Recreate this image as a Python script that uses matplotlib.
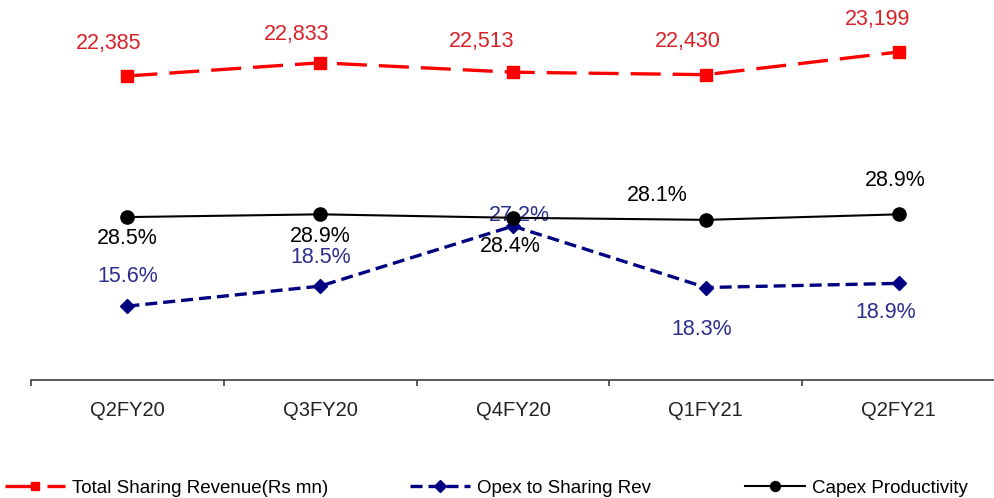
import matplotlib
matplotlib.use("Agg")
import matplotlib.pyplot as plt
from matplotlib import font_manager

# quarters and series
quarters = ["Q2FY20", "Q3FY20", "Q4FY20", "Q1FY21", "Q2FY21"]
revenue = [22385, 22833, 22513, 22430, 23199]      # Total Sharing Revenue (Rs mn)
opex_pct = [15.6, 18.5, 27.2, 18.3, 18.9]           # Opex to Sharing Rev (%)
capex_pct = [28.5, 28.9, 28.4, 28.1, 28.9]          # Capex Productivity (%)

# label offsets in pixels (dx, dy) for each point
rev_off = [(-19, 32), (-24, 28), (-31, 31), (-18, 33), (-21, 32)]
opex_off = [(0, 30), (0, 29), (6, 11), (-4, -42), (-13, -29)]
capex_off = [(0, -21), (0, -22), (-3, -29), (-49, 24), (-3, 34)]

names = {f.name for f in font_manager.fontManager.ttflist}
plt.rcParams["font.family"] = ["Liberation Sans", "DejaVu Sans"]
legend_font = "Liberation Sans Narrow" if "Liberation Sans Narrow" in names else "Liberation Sans"

RED = "#FF0000"
RED_TXT = "#DA2128"
NAVY = "#000080"
NAVY_TXT = "#2B2E8C"
AXIS = "#404040"

fig = plt.figure(figsize=(9.95, 4.98), dpi=100)
ax = fig.add_axes([31 / 995, 1 - 380 / 498, 1 - 31 / 995, 370 / 498])
ax2 = ax.twinx()

x = list(range(len(quarters)))

ax.plot(x, capex_pct, color="black", lw=1.5, marker="o", ms=9.5, zorder=4,
        label="Capex Productivity")
ax.plot(x, opex_pct, color=NAVY, lw=2.4, ls=(0, (3.6, 1.8)), marker="D", ms=7.5,
        zorder=3, label="Opex to Sharing Rev")
ax2.plot(x, revenue, color=RED, lw=2.4, ls=(0, (9, 3.6)), marker="s", ms=8.5,
         zorder=3, label="Total Sharing Revenue(Rs mn)")

ax.set_ylim(4.9, 58.5)
ax2.set_ylim(12079, 24622)
ax.set_xlim(-0.5, 4.40)

for i, v in enumerate(capex_pct):
    ax.annotate(f"{v:.1f}%", (i, v), xytext=capex_off[i], textcoords="offset pixels",
                ha="center", va="center", fontsize=15.5, color="black", zorder=5)
for i, v in enumerate(opex_pct):
    ax.annotate(f"{v:.1f}%", (i, v), xytext=opex_off[i], textcoords="offset pixels",
                ha="center", va="center", fontsize=15.5, color=NAVY_TXT, zorder=2)
for i, v in enumerate(revenue):
    ax2.annotate(f"{v:,}", (i, v), xytext=rev_off[i], textcoords="offset pixels",
                 ha="center", va="center", fontsize=15.5, color=RED_TXT)

# axis styling: only the bottom line with ticks between categories
for a in (ax, ax2):
    for s in ("top", "left", "right"):
        a.spines[s].set_visible(False)
    a.set_yticks([])
ax2.spines["bottom"].set_visible(False)
ax.spines["bottom"].set_color(AXIS)
ax.spines["bottom"].set_linewidth(1.2)
ax.set_xticks(x)
ax.set_xticklabels(quarters, fontsize=14.5, color="#222222")
ax.tick_params(axis="x", which="major", length=0, pad=15)
ax.set_xticks([i - 0.5 for i in range(len(quarters) + 1)], minor=True)
ax.tick_params(axis="x", which="minor", length=4.5, width=1.2, color=AXIS, direction="out")

# three separate legend entries, placed like the reference
h1, l1 = ax2.get_legend_handles_labels()
h2, l2 = ax.get_legend_handles_labels()
entries = [(h1[0], l1[0], 5), (h2[1], l2[1], 410), (h2[0], l2[0], 745)]
for h, lab, px in entries:
    leg = fig.legend([h], [lab], loc="center left", bbox_to_anchor=(px / 995, 10 / 498),
                     frameon=False, handlelength=3.2, handletextpad=0.35,
                     borderpad=0, borderaxespad=0, markerscale=0.75,
                     prop={"family": legend_font, "size": 13.5})

fig.savefig("out.png", dpi=100)
